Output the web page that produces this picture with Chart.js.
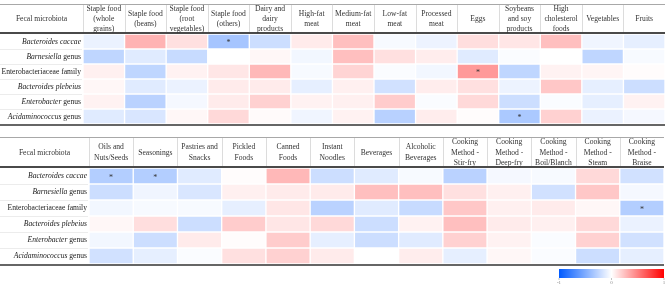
<!DOCTYPE html>
<html>
<head>
<meta charset="utf-8">
<script src="https://cdn.jsdelivr.net/npm/chart.js@4"></script>
<style>
  html, body { margin: 0; padding: 0; background: #fff; }
  #wrap { position: relative; width: 669px; height: 288px; overflow: hidden; }
  canvas { position: absolute; left: 0; }
</style>
</head>
<body>
<div id="wrap">
  <canvas id="tableTop" width="669" height="126" style="top:0"></canvas>
  <canvas id="tableBottom" width="669" height="163" style="top:125px"></canvas>
</div>
<script>
// heatmap of correlations: microbiota (rows) x food groups (columns)

const microbes = [
  [["Bacteroides caccae", true]],
  [["Barnesiella", true], [" genus", false]],
  [["Enterobacteriaceae family", false]],
  [["Bacteroides plebeius", true]],
  [["Enterobacter", true], [" genus", false]],
  [["Acidaminococcus", true], [" genus", false]]
];

const foods1 = [
  ["Staple food", "(whole", "grains)"], ["Staple food", "(beans)"], ["Staple food", "(root", "vegetables)"],
  ["Staple food", "(others)"], ["Dairy and", "dairy", "products"], ["High-fat", "meat"],
  ["Medium-fat", "meat"], ["Low-fat", "meat"], ["Processed", "meat"], ["Eggs"],
  ["Soybeans", "and soy", "products"], ["High", "cholesterol", "foods"], ["Vegetables"], ["Fruits"]
];

const foods2 = [
  ["Oils and", "Nuts/Seeds"], ["Seasonings"], ["Pastries and", "Snacks"], ["Pickled", "Foods"],
  ["Canned", "Foods"], ["Instant", "Noodles"], ["Beverages"], ["Alcoholic", "Beverages"],
  ["Cooking", "Method -", "Stir-fry"], ["Cooking", "Method -", "Deep-fry"], ["Cooking", "Method -", "Boil/Blanch"],
  ["Cooking", "Method -", "Steam"], ["Cooking", "Method -", "Braise"]
];

// one row per microbe
const values1 = [
  [-0.08, 0.30, 0.12, -0.35, -0.20, 0.08, 0.25, -0.03, -0.07, 0.13, 0.10, 0.25, -0.06, -0.10],
  [-0.25, -0.12, -0.22, 0.00, 0.03, -0.05, 0.25, 0.12, 0.07, -0.12, -0.02, 0.00, -0.25, -0.03],
  [0.06, -0.25, 0.05, 0.10, 0.28, -0.03, 0.17, -0.02, -0.05, 0.40, -0.25, 0.05, 0.04, 0.01],
  [0.03, -0.12, -0.08, 0.08, 0.08, -0.10, 0.06, -0.18, 0.07, 0.12, -0.07, 0.22, -0.10, -0.20],
  [0.05, -0.27, -0.04, 0.08, 0.18, 0.05, 0.06, 0.20, -0.02, 0.15, -0.20, -0.02, -0.10, 0.05],
  [-0.12, -0.15, 0.03, 0.15, 0.02, -0.06, 0.05, -0.28, 0.07, 0.01, -0.33, 0.18, -0.08, -0.04]
];

const values2 = [
  [-0.30, -0.30, -0.12, 0.01, 0.28, -0.20, -0.12, -0.03, -0.27, -0.04, -0.03, 0.15, -0.18],
  [-0.20, -0.06, -0.15, 0.06, 0.08, 0.08, 0.25, 0.25, 0.12, 0.06, -0.18, 0.22, -0.04],
  [-0.05, -0.03, -0.03, -0.10, 0.10, -0.27, -0.12, -0.22, 0.22, 0.06, 0.08, 0.03, -0.30],
  [0.03, 0.13, -0.20, 0.20, 0.10, 0.15, -0.20, 0.05, 0.25, 0.08, 0.06, 0.15, -0.08],
  [-0.05, -0.20, 0.08, 0.01, 0.20, -0.10, -0.20, -0.12, 0.18, 0.05, -0.02, 0.18, -0.18],
  [-0.18, -0.10, -0.02, 0.12, 0.18, 0.08, 0.00, 0.07, -0.10, 0.03, -0.02, -0.20, -0.10]
];

// [row, column] of the cells marked with *
const stars1 = [[0, 3], [2, 9], [5, 10]];
const stars2 = [[0, 0], [0, 1], [2, 12]];

const barTicks = [-1, 0, 1];

const FONT = '"Liberation Serif", "DejaVu Serif", serif';

function cmap(v) {
  const t = Math.min(1, Math.abs(v));
  const end = v < 0 ? [0, 90, 255] : [255, 0, 0];
  const c = end.map(e => Math.round(255 + (e - 255) * t));
  return `rgb(${c[0]},${c[1]},${c[2]})`;
}

function drawRowLabel(ctx, parts, xRight, y) {
  let widths = parts.map(([txt, it]) => {
    ctx.font = (it ? 'italic ' : '') + '7.6px ' + FONT;
    return ctx.measureText(txt).width;
  });
  let x = xRight - widths.reduce((a, b) => a + b, 0);
  parts.forEach(([txt, it], k) => {
    ctx.font = (it ? 'italic ' : '') + '7.6px ' + FONT;
    ctx.fillText(txt, x, y);
    x += widths[k];
  });
}

function tablePlugin(cols, stars, headerH, withBar) {
  return {
    id: 'tableDeco',
    afterDraw(chart) {
      const ctx = chart.ctx;
      const area = chart.chartArea;
      const xs = chart.scales.x, ys = chart.scales.y;
      const cw = area.width / cols.length;
      const top = area.top - headerH;
      ctx.save();

      // header separators
      ctx.strokeStyle = '#dcdcdc';
      ctx.lineWidth = 1;
      for (let i = 0; i <= cols.length - 1; i++) {
        const x = Math.round(area.left + i * cw) + 0.5;
        ctx.beginPath(); ctx.moveTo(x, top); ctx.lineTo(x, area.top - 2); ctx.stroke();
      }
      // faint row lines in label column
      ctx.strokeStyle = '#ececec';
      for (let r = 1; r < microbes.length; r++) {
        const y = Math.round(ys.getPixelForValue(r)) + 0.5;
        ctx.beginPath(); ctx.moveTo(0, y); ctx.lineTo(area.left - 1, y); ctx.stroke();
      }

      // rules
      ctx.strokeStyle = '#a8a8a8';
      ctx.lineWidth = 1;
      ctx.beginPath(); ctx.moveTo(0, top + 0.5); ctx.lineTo(area.right, top + 0.5); ctx.stroke();
      ctx.strokeStyle = '#4a4a4a';
      ctx.lineWidth = 2;
      ctx.beginPath(); ctx.moveTo(0, area.top - 1); ctx.lineTo(area.right, area.top - 1); ctx.stroke();
      ctx.strokeStyle = '#666';
      ctx.beginPath(); ctx.moveTo(0, area.bottom + 1); ctx.lineTo(area.right, area.bottom + 1); ctx.stroke();

      // header text
      ctx.fillStyle = '#333';
      ctx.textAlign = 'center';
      ctx.textBaseline = 'middle';
      ctx.font = '7.6px ' + FONT;
      const midY = top + headerH / 2;
      ctx.fillText('Fecal microbiota', area.left / 2, midY);
      cols.forEach((lines, i) => {
        const cx = xs.getPixelForValue(i);
        lines.forEach((ln, k) => {
          ctx.fillText(ln, cx, midY + (k - (lines.length - 1) / 2) * 10.3);
        });
      });

      // row labels
      ctx.fillStyle = '#222';
      ctx.textAlign = 'left';
      microbes.forEach((parts, r) => {
        drawRowLabel(ctx, parts, area.left - 2, ys.getPixelForValue(r + 0.5));
      });

      // stars
      ctx.fillStyle = '#333';
      ctx.textAlign = 'center';
      ctx.font = '8px ' + FONT;
      stars.forEach(([r, c]) => {
        ctx.fillText('*', xs.getPixelForValue(c), ys.getPixelForValue(r + 0.5) + 1.5);
      });

      // colour bar
      if (withBar) {
        const bx0 = 559, bx1 = 664, by0 = 144, by1 = 153;
        const g = ctx.createLinearGradient(bx0, 0, bx1, 0);
        g.addColorStop(0, cmap(-1));
        g.addColorStop(0.5, '#ffffff');
        g.addColorStop(1, cmap(1));
        ctx.fillStyle = g;
        ctx.fillRect(bx0, by0, bx1 - bx0, by1 - by0);
        ctx.fillStyle = '#888';
        ctx.strokeStyle = '#999';
        ctx.lineWidth = 0.6;
        ctx.font = '5px ' + FONT;
        barTicks.forEach(t => {
          const x = bx0 + (t + 1) / 2 * (bx1 - bx0);
          ctx.beginPath(); ctx.moveTo(x, by1); ctx.lineTo(x, by1 + 2); ctx.stroke();
          ctx.fillText(String(t), x, by1 + 5);
        });
      }
      ctx.restore();
    }
  };
}

function makeTable(id, cols, vals, stars, pad, headerH, withBar) {
  const canvas = document.getElementById(id);
  return new Chart(canvas.getContext('2d'), {
    type: 'bar',
    data: {
      labels: cols.map(c => c.join(' ')),
      datasets: microbes.map((m, r) => ({
        label: m.map(p => p[0]).join(''),
        data: cols.map(() => [r, r + 1]),
        backgroundColor: vals[r].map(cmap),
        borderColor: '#ffffff',
        borderWidth: 1,
        borderSkipped: false,
        grouped: false,
        barPercentage: 1,
        categoryPercentage: 1
      }))
    },
    options: {
      responsive: false,
      animation: false,
      layout: { padding: pad },
      plugins: { legend: { display: false }, tooltip: { enabled: false } },
      scales: {
        x: { display: false },
        y: { display: false, min: 0, max: microbes.length, reverse: true }
      }
    },
    plugins: [tablePlugin(cols, stars, headerH, withBar)]
  });
}

makeTable('tableTop', foods1, values1, stars1, { left: 83, right: 4, top: 34, bottom: 2 }, 30, false);
makeTable('tableBottom', foods2, values2, stars2, { left: 89, right: 5, top: 43, bottom: 24 }, 31, true);
</script>
</body>
</html>
